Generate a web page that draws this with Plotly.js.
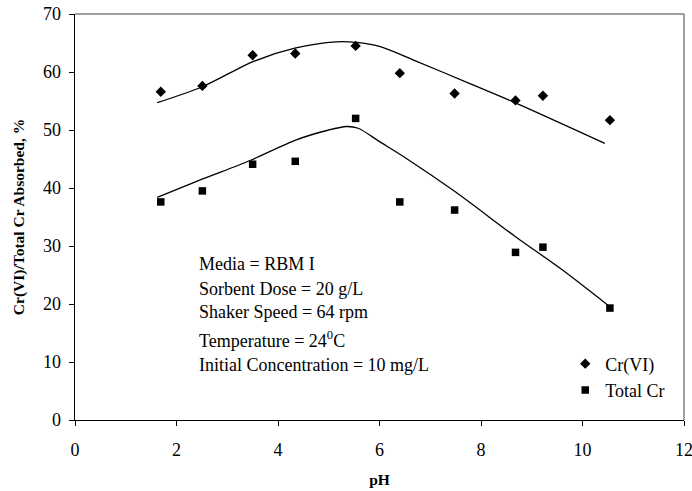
<!DOCTYPE html>
<html>
<head>
<meta charset="utf-8">
<script src="https://cdn.plot.ly/plotly-3.0.1.min.js"></script>
<style>html,body{margin:0;padding:0;background:#fff;}#chart{width:692px;height:491px;}</style>
</head>
<body>
<div id="chart"></div>
<script>
var pH = [1.69, 2.51, 3.50, 4.34, 5.53, 6.40, 7.48, 8.68, 9.22, 10.54];
var crVI = [56.6, 57.6, 62.9, 63.2, 64.5, 59.8, 56.3, 55.1, 55.9, 51.7];
var totalCr = [37.6, 39.5, 44.1, 44.6, 52.0, 37.6, 36.2, 28.9, 29.8, 19.3];
var fitX = [1.62, 2.52, 3.51, 4.33, 5.15, 5.54, 6.0, 6.66, 7.78, 8.70, 10.44];
var fitCrVI = [54.7, 57.5, 61.8, 64.1, 65.2, 65.1, 64.4, 62.1, 58.0, 54.6, 47.7];
var fitTotX = [1.62, 2.53, 3.44, 4.36, 5.0, 5.35, 5.58, 6.0, 6.53, 7.5, 8.68, 9.6, 10.5];
var fitTotal = [38.4, 41.6, 44.7, 48.3, 50.0, 50.6, 50.3, 48.0, 45.1, 39.3, 31.6, 25.9, 19.8];
var xTicks = [0, 2, 4, 6, 8, 10, 12];
var yTicks = [0, 10, 20, 30, 40, 50, 60, 70];
var legendNames = ['Cr(VI)', 'Total Cr'];
var noteLines = ['Media = RBM I', 'Sorbent Dose = 20 g/L', 'Shaker Speed = 64 rpm',
  'Temperature = 24<sup>0</sup>C', 'Initial Concentration = 10 mg/L'];
var noteY = [0.384, 0.323, 0.267, 0.199, 0.135];

var font = 'Liberation Serif, Times New Roman, serif';
var traces = [
  {x: fitX, y: fitCrVI, mode: 'lines', line: {color: '#000', width: 1.3, shape: 'spline', smoothing: 0.8}, showlegend: false, hoverinfo: 'skip'},
  {x: fitTotX, y: fitTotal, mode: 'lines', line: {color: '#000', width: 1.3, shape: 'spline', smoothing: 0.8}, showlegend: false, hoverinfo: 'skip'},
  {x: pH, y: crVI, name: legendNames[0], mode: 'markers', marker: {symbol: 'diamond', size: 8, color: '#000'}},
  {x: pH, y: totalCr, name: legendNames[1], mode: 'markers', marker: {symbol: 'square', size: 7.5, color: '#000'}}
];

var annotations = noteLines.map(function (t, i) {
  return {text: t, xref: 'paper', yref: 'paper', x: 0.2, y: noteY[i], xanchor: 'left', yanchor: 'middle',
    showarrow: false, font: {family: font, size: 18, color: '#000'}};
});

var layout = {
  width: 692, height: 491,
  margin: {l: 75, r: 8, t: 14, b: 71},
  paper_bgcolor: '#fff', plot_bgcolor: '#fff',
  font: {family: font, size: 18, color: '#000'},
  xaxis: {
    range: [0, 12], tickvals: xTicks, ticktext: xTicks.map(String),
    showgrid: false, zeroline: false, showline: true, linecolor: '#000', linewidth: 1.3,
    ticks: 'outside', ticklen: 5, tickcolor: '#000', tickwidth: 1, ticklabelstandoff: 8,
    ticklabeloverflow: 'allow',
    tickfont: {family: font, size: 18},
    title: {text: '<b>pH</b>', font: {family: font, size: 15.5}, standoff: 15}
  },
  yaxis: {
    range: [0, 70], tickvals: yTicks, ticktext: yTicks.map(String),
    showgrid: false, zeroline: false, showline: true, linecolor: '#000', linewidth: 1.3,
    ticks: 'outside', ticklen: 5, tickcolor: '#000', tickwidth: 1, ticklabelstandoff: 4,
    ticklabeloverflow: 'allow',
    tickfont: {family: font, size: 18},
    title: {text: '<b>Cr(VI)/Total Cr Absorbed, %</b>', font: {family: font, size: 15.5}, standoff: 14}
  },
  showlegend: true,
  legend: {x: 0.805, y: 0.106, xanchor: 'left', yanchor: 'middle', bgcolor: 'rgba(0,0,0,0)',
    font: {family: font, size: 18}, itemwidth: 30, tracegroupgap: 0},
  shapes: [
    {type: 'line', xref: 'paper', yref: 'paper', x0: 0, x1: 1, y0: 1, y1: 1, line: {color: '#808080', width: 1.5}},
    {type: 'line', xref: 'paper', yref: 'paper', x0: 1, x1: 1, y0: 0, y1: 1, line: {color: '#808080', width: 1.5}}
  ],
  annotations: annotations
};

Plotly.newPlot('chart', traces, layout, {displayModeBar: false, staticPlot: true});
</script>
</body>
</html>
